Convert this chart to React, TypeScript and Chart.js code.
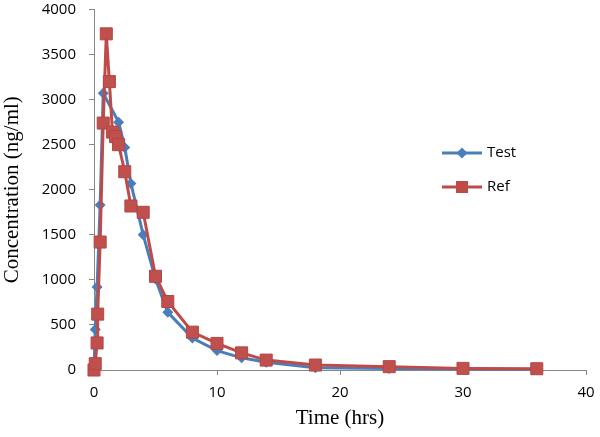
import React, { useEffect, useRef } from "react";
import { Chart, registerables } from "chart.js";

Chart.register(...registerables);

const seriesNames = ["Test", "Ref"];
const testTimes = [0, 0.1, 0.25, 0.5, 0.75, 2, 2.5, 3, 4, 5, 6, 8, 10, 12, 14, 18, 24, 30, 36];
const testValues = [0, 450, 920, 1830, 3070, 2750, 2470, 2070, 1500, 1010, 640, 355, 215, 135, 85, 25, 18, 10, 5];
const refTimes = [0, 0.1, 0.25, 0.3, 0.5, 0.75, 1, 1.25, 1.5, 1.75, 2, 2.5, 3, 4, 5, 6, 8, 10, 12, 14, 18, 24, 30, 36];
const refValues = [0, 70, 300, 620, 1420, 2740, 3730, 3200, 2640, 2590, 2500, 2200, 1820, 1750, 1040, 760, 420, 295, 190, 110, 55, 37, 18, 14];
const xTicks = [0, 10, 20, 30, 40];
const yTicks = [0, 500, 1000, 1500, 2000, 2500, 3000, 3500, 4000];
const xTitle = "Time (hrs)";
const yTitle = "Concentration (ng/ml)";

const BLUE = "#4A7EBB";
const RED = "#BE4B48";
const AXIS = "#868686";

const legendPlugin = {
  id: "customLegend",
  afterDraw(chart: any) {
    const ctx = chart.ctx as CanvasRenderingContext2D;
    ctx.save();
    const items = [
      { name: seriesNames[0], color: BLUE, style: "diamond", y: 153 },
      { name: seriesNames[1], color: RED, style: "square", y: 187 },
    ];
    for (const it of items) {
      ctx.strokeStyle = it.color;
      ctx.lineWidth = 3;
      ctx.beginPath();
      ctx.moveTo(442, it.y);
      ctx.lineTo(482, it.y);
      ctx.stroke();
      ctx.fillStyle = it.color;
      ctx.beginPath();
      if (it.style === "diamond") {
        const r = 5.5;
        ctx.moveTo(462, it.y - r);
        ctx.lineTo(462 + r, it.y);
        ctx.lineTo(462, it.y + r);
        ctx.lineTo(462 - r, it.y);
        ctx.closePath();
      } else {
        ctx.rect(456, it.y - 6, 12, 12);
      }
      ctx.fill();
      ctx.fillStyle = "#000";
      ctx.font = "15px 'Open Sans'";
      ctx.textBaseline = "middle";
      ctx.textAlign = "left";
      ctx.fillText(it.name, 487, it.y);
    }
    ctx.restore();
  },
};

export default function App() {
  const ref = useRef<HTMLCanvasElement>(null);
  useEffect(() => {
    if (!ref.current) return;
    const chart = new Chart(ref.current, {
      type: "scatter",
      data: {
        datasets: [
          {
            label: seriesNames[1],
            data: refTimes.map((t, i) => ({ x: t, y: refValues[i] })),
            showLine: true,
            borderColor: RED,
            backgroundColor: "#C0504D",
            borderWidth: 3,
            pointStyle: "rect",
            pointRadius: 8.5,
            pointBorderColor: "#B44743",
            pointBorderWidth: 1,
            pointBackgroundColor: "#C0504D",
            clip: false,
            order: 0,
          } as any,
          {
            label: seriesNames[0],
            data: testTimes.map((t, i) => ({ x: t, y: testValues[i] })),
            showLine: true,
            borderColor: BLUE,
            backgroundColor: BLUE,
            borderWidth: 3,
            pointStyle: "rectRot",
            pointRadius: 5.5,
            pointBorderWidth: 0,
            pointBackgroundColor: BLUE,
            clip: false,
            order: 1,
          } as any,
        ],
      },
      options: {
        responsive: false,
        animation: false,
        devicePixelRatio: 1,
        layout: { padding: { top: 6, right: 14, left: 0, bottom: 0 } },
        plugins: { legend: { display: false }, tooltip: { enabled: false } },
        scales: {
          x: {
            type: "linear",
            min: 0,
            max: 40,
            afterBuildTicks: (s: any) => {
              s.ticks = xTicks.map((v) => ({ value: v }));
            },
            afterFit: (s: any) => {
              s.height = 67;
              s.paddingLeft = 0;
              s.paddingRight = 0;
            },
            border: { display: true, color: AXIS, width: 1 },
            grid: { display: true, drawOnChartArea: false, drawTicks: true, tickLength: 5, color: AXIS },
            ticks: {
              color: "#000",
              font: { family: "'Open Sans'", size: 15 },
              padding: 9,
              maxRotation: 0,
              callback: (v: any) => String(v),
            },
            title: {
              display: true,
              text: xTitle,
              color: "#000",
              font: { family: "'Liberation Serif'", size: 21 },
              padding: { top: 0, bottom: 6 },
            },
          },
          y: {
            type: "linear",
            min: 0,
            max: 4000,
            afterBuildTicks: (s: any) => {
              s.ticks = yTicks.map((v) => ({ value: v }));
            },
            afterFit: (s: any) => {
              s.width = 94;
              s.paddingTop = 0;
              s.paddingBottom = 0;
            },
            border: { display: true, color: AXIS, width: 1 },
            grid: { display: true, drawOnChartArea: false, drawTicks: true, tickLength: 5, color: AXIS },
            ticks: {
              color: "#000",
              font: { family: "'Open Sans'", size: 15 },
              padding: 13,
              callback: (v: any) => String(v),
            },
            title: {
              display: true,
              text: yTitle,
              color: "#000",
              font: { family: "'Liberation Serif'", size: 21 },
              padding: { top: 0, bottom: 0 },
            },
          },
        },
      },
      plugins: [legendPlugin],
    });
    return () => chart.destroy();
  }, []);
  return (
    <div style={{ position: "absolute", left: 0, top: 0, width: 600, height: 437, background: "#fff" }}>
      <canvas ref={ref} width={600} height={437} style={{ width: 600, height: 437 }} />
    </div>
  );
}
